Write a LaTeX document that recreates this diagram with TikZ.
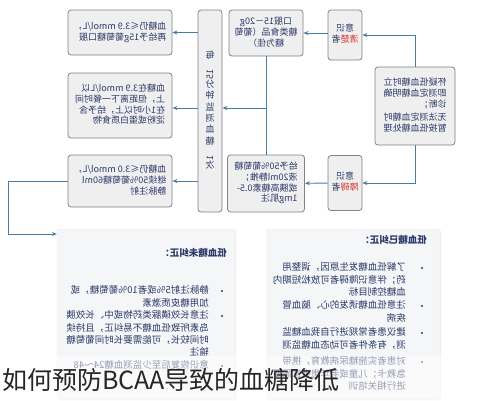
\documentclass[tikz,border=0pt]{standalone}
\usepackage{fontspec}
\setmainfont{Noto Sans CJK SC}
\usepackage{graphicx}
\usetikzlibrary{arrows.meta,positioning,shadows}

\definecolor{ink}{RGB}{45,58,105}
\definecolor{boxfill}{RGB}{239,239,240}
\definecolor{boxline}{RGB}{130,130,135}
\definecolor{linkblue}{RGB}{70,125,165}
\definecolor{warnred}{RGB}{215,50,45}
\definecolor{panelfill}{RGB}{245,246,248}

% the whole chart is printed mirrored
\newcommand{\mirtext}[2][l]{\reflectbox{\begin{tabular}{@{}#1@{}}#2\end{tabular}}}

\tikzset{
  card/.style={draw=boxline, fill=boxfill, rounded corners=3pt, line width=0.8pt,
    inner sep=0pt, text=ink, font=\fontsize{9}{10.7}\selectfont},
  link/.style={draw=linkblue, line width=0.9pt},
  flow/.style={link, -{Stealth[length=5pt,width=4pt]}},
  panel/.style={fill=panelfill, rounded corners=2pt, draw=black!8,
    drop shadow={opacity=0.12, shadow xshift=1pt, shadow yshift=-1pt}},
  note/.style={text=ink, inner sep=0pt, font=\fontsize{9.5}{12.3}\selectfont},
  notehead/.style={text=ink, inner sep=0pt, font=\fontsize{9.5}{12}\selectfont\bfseries},
}

\begin{document}
\begin{tikzpicture}[x=1pt,y=-1pt]
  \useasboundingbox (0,0) rectangle (477,400);
  \fill[white] (0,0) rectangle (477,400);

  % left column
  \node[card, minimum width=104pt, minimum height=45pt] (low1) at (120,32.5)
    {\mirtext{血糖仍≤3.9 mmol/L，\\再给予15g葡萄糖口服}};
  \node[card, minimum width=104pt, minimum height=65pt] (low2) at (120,105.5)
    {\mirtext{血糖在3.9 mmol/L以\\上，但距离下一餐时间\\在1小时以上，给予含\\淀粉或蛋白质食物}};
  \node[card, minimum width=104pt, minimum height=52pt] (low3) at (120,181)
    {\mirtext{血糖仍≤3.0 mmol/L，\\继续50\%葡萄糖60ml\\静脉注射}};

  % monitoring bar
  \node[card, minimum width=24pt, minimum height=202pt, font=\fontsize{9}{11.3}\selectfont] (vbox) at (210,111)
    {\mirtext[c]{每\\\rotatebox{-90}{15}\\分\\钟\\监\\测\\血\\糖\\\rotatebox{-90}{1}\\次}};

  % treatment
  \node[card, minimum width=74pt, minimum height=46pt] (oral) at (266,33)
    {\mirtext[c]{口服15－20g\\糖类食品（葡萄\\糖为佳）}};
  \node[card, minimum width=77pt, minimum height=57pt] (iv) at (266,183.5)
    {\mirtext{给予50\%葡萄糖\\液20ml静推；\\或胰高糖素0.5-\\1mg肌注}};

  % consciousness
  \node[card, minimum width=34pt, minimum height=50pt] (awake) at (345,35)
    {\mirtext[c]{意识\\\textcolor{warnred}{清楚}者}};
  \node[card, minimum width=34pt, minimum height=55pt] (coma) at (345,183)
    {\mirtext[c]{意识\\\textcolor{warnred}{障碍}者}};

  % start
  \node[card, minimum width=80pt, minimum height=78pt, font=\fontsize{9}{11}\selectfont] (check) at (415,106)
    {\mirtext{怀疑低血糖时立\\即测定血糖明确\\诊断；\\[2pt]无法测定血糖时\\暂按低血糖处理}};

  % result panels
  \node[panel, minimum width=178pt, minimum height=170pt] (unfix) at (146,314) {};
  \node[panel, minimum width=173pt, minimum height=170pt] (fixed) at (353.5,314) {};

  \node[notehead, anchor=east] (unfixhead) at (227,253) {\reflectbox{低血糖未纠正：}};
  \node[note, anchor=north east] (unfix1) at (209,285)
    {\mirtext{静脉注射5\%或者10\%葡萄糖，或\\加用糖皮质激素}};
  \node[note, anchor=north east] (unfix2) at (209,310)
    {\mirtext{注意长效磺脲类药物或中、长效胰\\岛素所致低血糖不易纠正，且持续\\时间较长，可能需要长时间葡萄糖\\输注}};
  \node[note, anchor=north east] (unfix3) at (209,360)
    {\mirtext{意识恢复后至少监测血糖24～48}};
  \fill[ink] (222,291) circle (1.2pt);
  \fill[ink] (222,316) circle (1.2pt);
  \fill[ink] (222,366) circle (1.2pt);

  \node[notehead, anchor=east] (fixedhead) at (427,240) {\reflectbox{低血糖已纠正：}};
  \node[note, anchor=north east] (fixed1) at (406,262)
    {\mirtext{了解低血糖发生原因，调整用\\药；伴意识障碍者可放松短期内\\血糖控制目标}};
  \node[note, anchor=north east] (fixed2) at (406,300)
    {\mirtext{注意低血糖诱发的心、脑血管\\疾病}};
  \node[note, anchor=north east] (fixed3) at (406,327)
    {\mirtext{建议患者常规进行自我血糖监\\测，有条件者可动态血糖监测}};
  \node[note, anchor=north east] (fixed4) at (406,356)
    {\mirtext{对患者实施糖尿病教育，携带\\急救卡；儿童或老年患者家属要\\进行相关培训}};
  \fill[ink] (422,268) circle (1.2pt);
  \fill[ink] (422,306) circle (1.2pt);
  \fill[ink] (422,333) circle (1.2pt);
  \fill[ink] (422,362) circle (1.2pt);

  % connectors
  \coordinate (split) at (266,108);
  \coordinate (bend) at (8,234);
  \draw[flow] (check.north) |- (awake.east);
  \draw[flow] (check.south) |- (coma.east);
  \draw[flow] (awake.west |- oral) -- (oral.east);
  \draw[flow] (coma) -- (iv);
  \draw[link] (oral) -- (iv);
  \draw[flow] (split) -- (split -| vbox.east);
  \draw[flow] (vbox.west |- low1) -- (low1.east);
  \draw[flow] (vbox.west |- split) -- (split -| low2.east);
  \draw[flow] (vbox.west |- low3) -- (low3.east);
  \draw[flow] (low3.west) -| (bend) -- (bend -| unfix.west);

  % caption over a pale band
  \fill[white, opacity=0.5] (0,356) rectangle (477,400);
  \node[anchor=west, inner sep=0pt, text=black!85, font=\fontsize{25}{25}\selectfont] (caption) at (2,380)
    {如何预防BCAA导致的血糖降低};
\end{tikzpicture}
\end{document}
